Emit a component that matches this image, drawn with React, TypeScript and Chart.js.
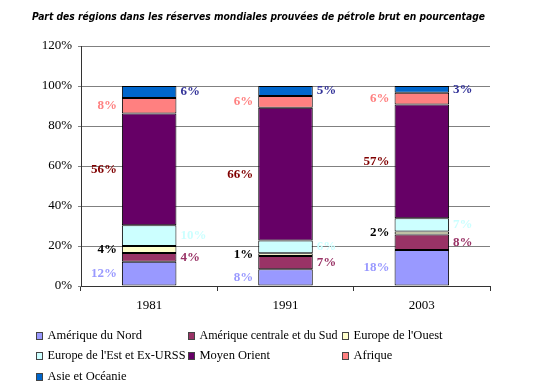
import React, { useEffect, useRef } from 'react';
import { Chart, registerables } from 'chart.js';

Chart.register(...registerables);

const titleText = 'Part des régions dans les réserves mondiales prouvées de pétrole brut en pourcentage';
const years = ['1981', '1991', '2003'];
const regionNames = [
  'Amérique du Nord',
  'Amérique centrale et du Sud',
  "Europe de l'Ouest",
  "Europe de l'Est et Ex-URSS",
  'Moyen Orient',
  'Afrique',
  'Asie et Océanie',
];
const ameriqueNord = [12.1, 8.4, 18.0];
const ameriqueCentraleSud = [4.4, 6.6, 7.7];
const europeOuest = [3.5, 1.4, 1.6];
const europeEst = [10.4, 6.3, 6.6];
const moyenOrient = [55.8, 66.4, 56.8];
const afrique = [7.8, 5.9, 5.9];
const asieOceanie = [6.0, 5.0, 3.4];
const yTickValues = [0, 20, 40, 60, 80, 100, 120];

const seriesValues = [ameriqueNord, ameriqueCentraleSud, europeOuest, europeEst, moyenOrient, afrique, asieOceanie];
const fillColors = ['#9999FF', '#993366', '#FFFFCC', '#CCFFFF', '#660066', '#FF8080', '#0066CC'];
const labelColors = ['#9999FF', '#993366', '#000000', '#CCFFFF', '#800000', '#FF8080', '#333399'];
const labelSides = ['left', 'right', 'left', 'right', 'left', 'left', 'right'];

const SERIF = '"Liberation Serif", "Times New Roman", serif';

const overlayPlugin = {
  id: 'overlay',
  afterDatasetsDraw(chart: any) {
    const ctx = chart.ctx;
    ctx.save();
    ctx.font = `bold 13px ${SERIF}`;
    ctx.textBaseline = 'middle';
    chart.data.datasets.forEach((ds: any, i: number) => {
      const meta = chart.getDatasetMeta(i);
      meta.data.forEach((el: any, j: number) => {
        const p = el.getProps(['x', 'y', 'base', 'width'], true);
        const cy = (p.y + p.base) / 2;
        const txt = Math.round(ds.data[j]) + '%';
        ctx.fillStyle = labelColors[i];
        if (labelSides[i] === 'left') {
          ctx.textAlign = 'right';
          ctx.fillText(txt, p.x - p.width / 2 - 5, cy);
        } else {
          ctx.textAlign = 'left';
          ctx.fillText(txt, p.x + p.width / 2 + 4, cy);
        }
      });
    });
    ctx.restore();
  },
  afterDraw(chart: any) {
    const ctx = chart.ctx;
    ctx.save();
    // title
    ctx.font = 'bold oblique 11px "DejaVu Sans", Verdana, sans-serif';
    ctx.fillStyle = '#000';
    ctx.textAlign = 'left';
    ctx.textBaseline = 'middle';
    ctx.fillText(titleText, 32, 17.5, 453);
    // legend
    const colX = [36, 188, 342];
    const rowY = [336, 356, 377];
    ctx.font = `12.5px ${SERIF}`;
    ctx.textAlign = 'left';
    regionNames.forEach((name, i) => {
      const c = i % 3;
      const r = Math.floor(i / 3);
      const x = colX[c];
      const y = rowY[r];
      ctx.fillStyle = fillColors[i];
      ctx.fillRect(x + 0.5, y - 3.5, 6, 7);
      ctx.strokeStyle = '#444';
      ctx.lineWidth = 1;
      ctx.strokeRect(x + 0.5, y - 3.5, 6, 7);
      ctx.fillStyle = '#000';
      ctx.fillText(name, x + 11.5, y, 138);
    });
    ctx.restore();
  },
};

export default function App() {
  const ref = useRef<HTMLCanvasElement | null>(null);
  useEffect(() => {
    if (!ref.current) return;
    const chart = new Chart(ref.current, {
      type: 'bar',
      data: {
        labels: years,
        datasets: seriesValues.map((vals, i) => ({
          label: regionNames[i],
          data: vals,
          backgroundColor: fillColors[i],
          borderColor: '#000',
          borderWidth: 1,
          borderSkipped: false,
          barPercentage: 0.4,
          categoryPercentage: 1,
        })),
      },
      options: {
        responsive: false,
        animation: false,
        devicePixelRatio: 1,
        layout: { padding: { top: 46, right: 60, left: 0, bottom: 0 } },
        plugins: {
          legend: { display: false },
          title: { display: false },
          tooltip: { enabled: false },
        },
        scales: {
          x: {
            stacked: true,
            afterFit: (s: any) => { s.height = 102; },
            grid: { drawOnChartArea: false, tickLength: 5, color: '#333', offset: true },
            border: { color: '#333', width: 1 },
            ticks: { font: { family: SERIF, size: 13 }, color: '#000', padding: 7, maxRotation: 0 },
          },
          y: {
            stacked: true,
            min: 0,
            max: 120,
            afterFit: (s: any) => { s.width = 81; },
            afterBuildTicks: (s: any) => { s.ticks = yTickValues.map((v) => ({ value: v })); },
            grid: { color: '#808080', tickLength: 3 },
            border: { color: '#333', width: 1 },
            ticks: {
              font: { family: SERIF, size: 13 },
              color: '#000',
              padding: 6,
              callback: (v: any) => v + '%',
            },
          },
        },
      },
      plugins: [overlayPlugin],
    });
    return () => chart.destroy();
  }, []);
  return (
    <canvas
      ref={ref}
      width={550}
      height={388}
      style={{ position: 'absolute', left: 0, top: 0, width: 550, height: 388, background: '#fff' }}
    />
  );
}
